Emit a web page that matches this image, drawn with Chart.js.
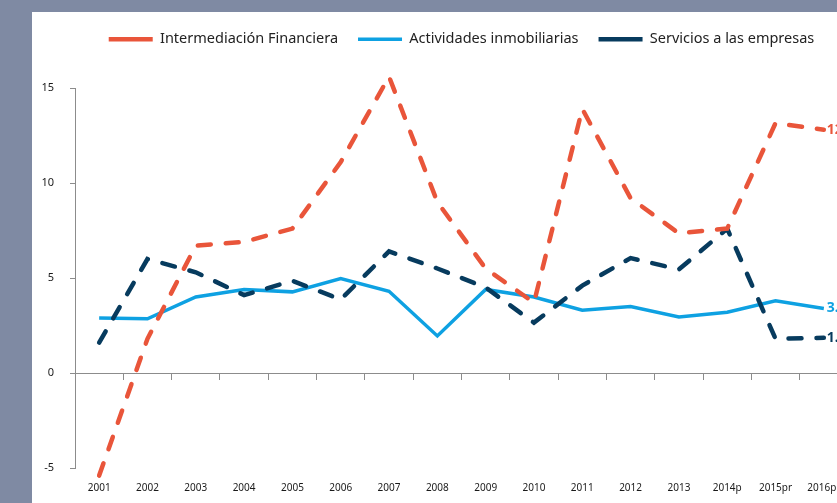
<!DOCTYPE html>
<html>
<head>
<meta charset="utf-8">
<script src="https://cdn.jsdelivr.net/npm/chart.js@4"></script>
<style>
html, body { margin: 0; padding: 0; }
body { width: 837px; height: 503px; overflow: hidden; background: #7f8aa3; position: relative; }
#panel { position: absolute; left: 32px; top: 12px; right: 0; bottom: 0; background: #fff; }
#myChart { position: absolute; left: 0; top: 0; }
</style>
</head>
<body>
<div id="panel"></div>
<canvas id="myChart" width="900" height="503"></canvas>
<script>
'use strict';

let years = ['2001', '2002', '2003', '2004', '2005', '2006', '2007', '2008', '2009', '2010', '2011', '2012', '2013', '2014p', '2015pr', '2016pr'];

let financiera = [-5.4, 1.8, 6.7, 6.9, 7.6, 11.1, 15.6, 9.0, 5.5, 3.7, 13.9, 9.2, 7.35, 7.6, 13.15, 12.8];
let inmobiliarias = [2.9, 2.85, 4.0, 4.4, 4.27, 4.97, 4.3, 1.95, 4.4, 4.0, 3.3, 3.5, 2.95, 3.2, 3.8, 3.4];
let empresas = [1.6, 6.0, 5.3, 4.1, 4.85, 3.87, 6.4, 5.5, 4.5, 2.65, 4.6, 6.05, 5.45, 7.6, 1.8, 1.85];

let yTicks = [-5, 0, 5, 10, 15];

let orange = '#e9553a';
let blue = '#0ea1e2';
let navy = '#073b5e';
let axisGray = '#8c8c8c';

Chart.defaults.font.family = "'Noto Sans', sans-serif";
Chart.defaults.color = '#1a1a1a';

// extra room under the legend
let legendMargin = {
    id: 'legendMargin',
    beforeInit(chart) {
        let fit = chart.legend.fit;
        chart.legend.fit = function () {
            fit.bind(chart.legend)();
            this.height = 76;
        };
    }
};

// value at the end of each line
let endLabels = {
    id: 'endLabels',
    afterDatasetsDraw(chart) {
        let ctx = chart.ctx;
        ctx.save();
        ctx.font = "bold 14px 'Noto Sans', sans-serif";
        ctx.textBaseline = 'middle';
        ctx.textAlign = 'left';
        chart.data.datasets.forEach(function (ds, i) {
            let meta = chart.getDatasetMeta(i);
            let last = meta.data[meta.data.length - 1];
            ctx.fillStyle = ds.borderColor;
            ctx.fillText(ds.data[ds.data.length - 1].toFixed(1), last.x + 3, last.y);
        });
        ctx.restore();
    }
};

let ctx = document.getElementById('myChart').getContext('2d');
let myChart = new Chart(ctx, {
    type: 'line',
    data: {
        labels: years,
        datasets: [{
            label: 'Intermediación Financiera',
            data: financiera,
            borderColor: orange,
            backgroundColor: orange,
            borderWidth: 4.5,
            borderDash: [13, 15],
            borderCapStyle: 'round',
            pointRadius: 0,
            clip: false,
            order: 0
        }, {
            label: 'Actividades inmobiliarias',
            data: inmobiliarias,
            borderColor: blue,
            backgroundColor: blue,
            borderWidth: 3.5,
            pointRadius: 0,
            clip: false,
            order: 2
        }, {
            label: 'Servicios a las empresas',
            data: empresas,
            borderColor: navy,
            backgroundColor: navy,
            borderWidth: 4.5,
            borderDash: [13, 15],
            borderCapStyle: 'round',
            pointRadius: 0,
            clip: false,
            order: 1
        }]
    },
    options: {
        responsive: false,
        animation: false,
        layout: {
            padding: { left: 32, right: 52, top: 12, bottom: 9 }
        },
        plugins: {
            tooltip: { enabled: false },
            legend: {
                position: 'top',
                fullSize: false,
                labels: {
                    usePointStyle: true,
                    pointStyle: 'line',
                    pointStyleWidth: 44,
                    padding: 20,
                    color: '#222',
                    font: { size: 14.5 },
                    sort: (a, b) => a.datasetIndex - b.datasetIndex
                }
            }
        },
        scales: {
            x: {
                offset: true,
                afterFit: function (scale) { scale.height = 26; },
                grid: { display: false, drawTicks: false },
                border: { display: false },
                ticks: { font: { size: 10 }, padding: 14, maxRotation: 0, autoSkip: false }
            },
            x2: {
                type: 'category',
                position: { y: 0 },
                offset: true,
                afterFit: function (scale) { scale.height = 0; },
                grid: { offset: true, drawOnChartArea: false, tickLength: 6, color: axisGray },
                border: { color: axisGray },
                ticks: { display: false }
            },
            y: {
                min: -5,
                max: 15,
                afterFit: function (scale) { scale.width = 43; },
                afterBuildTicks: function (scale) { scale.ticks = yTicks.map(v => ({ value: v })); },
                grid: { drawOnChartArea: false, tickLength: 5, color: axisGray },
                border: { color: axisGray },
                ticks: { font: { size: 11 }, padding: 16 }
            }
        }
    },
    plugins: [legendMargin, endLabels]
});
</script>
</body>
</html>
